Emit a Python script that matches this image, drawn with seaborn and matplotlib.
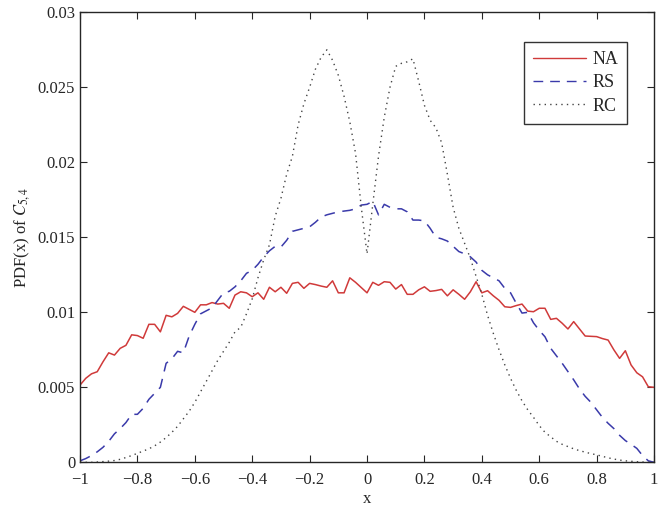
import numpy as np
import pandas as pd
import seaborn as sns
import matplotlib.pyplot as plt

# x grid, step 0.02
x = np.round(np.linspace(-1, 1, 101), 2)

# PDF values (x 1e-3)
na = [5.15, 5.6, 5.9, 6.04, 6.7, 7.3, 7.15, 7.6, 7.8, 8.5,
      8.45, 8.27, 9.2, 9.2, 8.7, 9.8, 9.7, 9.93, 10.4, 10.2,
      10.0, 10.5, 10.5, 10.65, 10.55, 10.6, 10.27, 11.15, 11.37, 11.3,
      11.04, 11.3, 10.87, 11.67, 11.37, 11.67, 11.27, 11.93, 12.0, 11.6,
      11.93, 11.85, 11.75, 11.67, 12.1, 11.3, 11.3, 12.3, 12.0, 11.65,
      11.3, 12.0, 11.8, 12.04, 12.0, 11.55, 11.85, 11.2, 11.2, 11.5,
      11.7, 11.4, 11.45, 11.53, 11.1, 11.5, 11.2, 10.87, 11.37, 12.04,
      11.3, 11.44, 11.1, 10.8, 10.37, 10.33, 10.45, 10.55, 10.08, 10.04,
      10.27, 10.27, 9.53, 9.6, 9.27, 8.89, 9.38, 8.9, 8.42, 8.4,
      8.38, 8.25, 8.15, 7.5, 6.93, 7.44, 6.49, 5.97, 5.7, 5.04, 5.0]

rs = [0.1, 0.25, 0.45, 0.7, 1.0, 1.4, 1.9, 2.25, 2.65, 3.2,
      3.2, 3.6, 4.2, 4.6, 5.0, 6.6, 6.9, 7.4, 7.3, 8.4,
      9.2, 9.9, 10.1, 10.3, 10.8, 11.3, 11.4, 11.7, 12.1, 12.6,
      12.8, 13.2, 13.7, 14.1, 14.4, 14.35, 14.8, 15.4, 15.5, 15.6,
      15.7, 16.0, 16.35, 16.5, 16.6, 16.7, 16.75, 16.8, 16.9, 17.15,
      17.2, 17.4, 16.5, 17.2, 17.0, 16.9, 16.9, 16.7, 16.15, 16.15,
      16.1, 15.6, 15.0, 14.9, 14.75, 14.4, 14.05, 13.9, 13.7, 13.35,
      12.8, 12.5, 12.3, 12.1, 11.6, 11.3, 10.6, 9.95, 10.0, 9.3,
      8.8, 8.37, 7.6, 7.1, 6.6, 6.05, 5.5, 4.9, 4.4, 4.0,
      3.5, 3.0, 2.6, 2.25, 1.8, 1.45, 1.2, 0.93, 0.45, 0.1, 0.0]

rc = [0.0, 0.0, 0.0, 0.02, 0.05, 0.08, 0.12, 0.2, 0.32, 0.45,
      0.6, 0.75, 0.9, 1.1, 1.35, 1.65, 2.0, 2.4, 2.9, 3.4,
      4.0, 4.7, 5.4, 6.1, 6.8, 7.4, 8.0, 8.7, 9.0, 9.9,
      10.9, 12.3, 13.5, 14.5, 16.4, 17.6, 19.2, 20.4, 22.5, 23.9,
      25.0, 26.2, 27.0, 27.5, 26.8, 25.8, 24.4, 22.7, 20.6, 17.0,
      13.9, 17.2, 20.4, 23.0, 25.0, 26.4, 26.6, 26.7, 26.9, 25.4,
      23.8, 22.8, 22.3, 21.3, 19.2, 17.0, 15.6, 14.6, 13.6, 12.4,
      11.2, 9.8, 8.6, 7.5, 6.5, 5.6, 4.8, 4.1, 3.5, 3.0,
      2.45, 2.0, 1.7, 1.4, 1.2, 1.05, 0.9, 0.78, 0.68, 0.58,
      0.5, 0.4, 0.3, 0.22, 0.15, 0.1, 0.07, 0.04, 0.02, 0.0, 0.0]

df = pd.DataFrame({'x': x,
                   'NA': np.array(na) / 1000,
                   'RS': np.array(rs) / 1000,
                   'RC': np.array(rc) / 1000})

sns.set_style('ticks')
plt.rcParams['font.family'] = ['Liberation Serif', 'DejaVu Serif']
plt.rcParams['mathtext.fontset'] = 'stix'

fig = plt.figure(figsize=(6.64, 5.09), dpi=100)
ax = fig.add_axes([0.1205, 0.0917, 0.8645, 0.8841])

sns.lineplot(data=df, x='x', y='NA', ax=ax, color='#d03a3a', lw=1.1, label='NA')
sns.lineplot(data=df, x='x', y='RS', ax=ax, color='#3a3aaa', lw=1.1, label='RS')
ax.lines[-1].set_dashes([7, 5])
sns.lineplot(data=df, x='x', y='RC', ax=ax, color='#444444', lw=1.0, label='RC')
ax.lines[-1].set_dashes([1, 3])

ax.set_xlim(-1, 1)
ax.set_ylim(0, 0.03)
ax.set_xticks(np.round(np.arange(-1, 1.01, 0.2), 1))
ax.set_xticklabels(['\u22121', '\u22120.8', '\u22120.6', '\u22120.4', '\u22120.2',
                    '0', '0.2', '0.4', '0.6', '0.8', '1'])
ax.set_yticks([0, 0.005, 0.01, 0.015, 0.02, 0.025, 0.03])
ax.set_yticklabels(['0', '0.005', '0.01', '0.015', '0.02', '0.025', '0.03'])
ax.tick_params(direction='in', top=True, right=True, labelsize=12, length=5)
ax.tick_params(axis='x', pad=7)
for s in ax.spines.values():
    s.set_linewidth(1.0)
    s.set_visible(True)

ax.set_xlabel('x', fontsize=12, labelpad=2)
ax.set_ylabel('PDF(x) of $C_{5,4}$', fontsize=12)

leg = ax.legend(loc='upper right', bbox_to_anchor=(0.953, 0.934), fontsize=13,
                frameon=True, fancybox=False, edgecolor='black', borderaxespad=0,
                handlelength=2.9, handletextpad=0.35, borderpad=0.5,
                labelspacing=0.35)
leg.get_frame().set_linewidth(1.0)
for h in leg.get_lines():
    h.set_linewidth(1.0)

fig.savefig('out.png', dpi=100)
